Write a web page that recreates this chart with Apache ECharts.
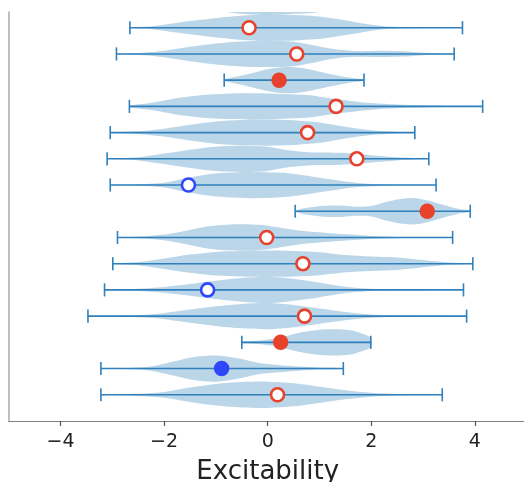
<!DOCTYPE html>
<html>
<head>
<meta charset="utf-8">
<script src="https://cdn.jsdelivr.net/npm/echarts@6/dist/echarts.min.js"></script>
<style>html,body{margin:0;padding:0;background:#fff}#chart{width:524px;height:482px}</style>
</head>
<body>
<div id="chart"></div>
<script>
// Rows listed top to bottom; row 0 is mostly clipped at the top of the axes
const rowMin = [-3.0, -2.66, -2.92, -0.84, -2.67, -3.04, -3.10, -3.04, 0.53, -2.90, -2.99, -3.15, -3.47, -0.50, -3.22, -3.22];
const rowMax = [3.5, 3.76, 3.60, 1.86, 4.15, 2.84, 3.11, 3.25, 3.91, 3.57, 3.96, 3.78, 3.84, 1.99, 1.46, 3.37];
const markerX = [null, -0.36, 0.56, 0.22, 1.32, 0.77, 1.72, -1.53, 3.08, -0.02, 0.68, -1.16, 0.71, 0.25, -0.89, 0.19];
const markerKind = [null, 'openRed', 'openRed', 'filledRed', 'openRed', 'openRed', 'openRed', 'openBlue', 'filledRed', 'openRed', 'openRed', 'openBlue', 'openRed', 'filledRed', 'filledBlue', 'openRed'];

// violin profiles: sample positions and relative half-widths (0..1)
const violinX = [
  [-3.0, -2.0, -1.3, -0.7, -0.2, 0.4, 0.9, 1.5, 2.2, 3.5],
  [-2.66, -2.27, -1.8, -1.3, -0.66, -0.27, 0.2, 0.63, 1.0, 1.27, 1.6, 1.91, 2.3, 2.8, 3.76],
  [-2.92, -2.4, -2.0, -1.5, -1.0, -0.5, 0.0, 0.5, 0.9, 1.3, 1.7, 2.2, 2.6, 3.0, 3.6],
  [-0.84, -0.5, -0.2, 0.1, 0.4, 0.7, 1.0, 1.3, 1.6, 1.86],
  [-2.67, -2.2, -1.8, -1.3, -0.8, -0.3, 0.3, 0.8, 1.2, 1.6, 2.0, 2.5, 3.0, 3.6, 4.15],
  [-3.04, -2.5, -2.0, -1.5, -1.0, -0.5, 0.0, 0.5, 1.0, 1.5, 2.0, 2.5, 2.84],
  [-3.10, -2.5, -2.0, -1.5, -1.0, -0.5, 0.0, 0.4, 0.8, 1.2, 1.6, 2.0, 2.5, 3.11],
  [-3.04, -2.5, -2.0, -1.6, -1.2, -0.8, -0.3, 0.2, 0.6, 1.0, 1.4, 1.8, 2.3, 3.25],
  [0.53, 0.8, 1.1, 1.4, 1.7, 2.0, 2.3, 2.6, 2.85, 3.1, 3.4, 3.7, 3.91],
  [-2.90, -2.4, -2.0, -1.6, -1.2, -0.8, -0.4, 0.0, 0.4, 0.8, 1.2, 1.6, 2.0, 2.6, 3.57],
  [-2.99, -2.5, -2.0, -1.5, -1.0, -0.5, 0.0, 0.5, 1.0, 1.5, 2.0, 2.5, 3.0, 3.5, 3.96],
  [-3.15, -2.5, -2.0, -1.5, -1.0, -0.5, 0.0, 0.4, 0.8, 1.2, 1.6, 2.0, 2.6, 3.78],
  [-3.47, -2.8, -2.2, -1.6, -1.0, -0.5, 0.0, 0.5, 1.0, 1.5, 2.0, 2.6, 3.84],
  [-0.50, -0.2, 0.1, 0.4, 0.7, 1.0, 1.3, 1.6, 1.8, 1.99],
  [-3.22, -2.6, -2.2, -1.8, -1.4, -1.0, -0.6, -0.2, 0.2, 0.6, 1.0, 1.46],
  [-3.22, -2.6, -2.0, -1.5, -1.0, -0.5, 0.0, 0.5, 1.0, 1.5, 2.0, 2.5, 3.37]
];
const violinW = [
  [0.02, 0.15, 0.50, 0.85, 1.00, 0.95, 0.85, 0.50, 0.15, 0.02],
  [0.02, 0.10, 0.35, 0.60, 0.88, 0.98, 1.00, 0.95, 0.85, 0.70, 0.50, 0.28, 0.10, 0.04, 0.01],
  [0.02, 0.10, 0.25, 0.55, 0.80, 0.95, 1.00, 0.93, 0.65, 0.35, 0.22, 0.24, 0.20, 0.09, 0.02],
  [0.06, 0.35, 0.65, 0.90, 1.00, 0.90, 0.65, 0.40, 0.18, 0.05],
  [0.06, 0.30, 0.60, 0.85, 0.97, 1.00, 0.95, 0.85, 0.62, 0.42, 0.25, 0.14, 0.08, 0.04, 0.02],
  [0.02, 0.10, 0.30, 0.60, 0.85, 0.97, 1.00, 0.95, 0.78, 0.45, 0.18, 0.06, 0.02],
  [0.02, 0.12, 0.40, 0.70, 0.93, 1.00, 0.92, 0.65, 0.50, 0.48, 0.42, 0.28, 0.12, 0.02],
  [0.02, 0.06, 0.18, 0.50, 0.78, 0.93, 1.00, 0.95, 0.80, 0.55, 0.32, 0.14, 0.05, 0.02],
  [0.05, 0.28, 0.42, 0.44, 0.35, 0.40, 0.72, 0.95, 1.00, 0.82, 0.48, 0.17, 0.05],
  [0.02, 0.08, 0.22, 0.50, 0.82, 0.97, 1.00, 0.90, 0.65, 0.45, 0.33, 0.22, 0.12, 0.04, 0.01],
  [0.02, 0.12, 0.40, 0.70, 0.90, 0.97, 1.00, 0.97, 0.88, 0.66, 0.55, 0.48, 0.28, 0.09, 0.02],
  [0.02, 0.08, 0.22, 0.45, 0.70, 0.90, 1.00, 0.88, 0.68, 0.42, 0.20, 0.08, 0.03, 0.01],
  [0.02, 0.05, 0.15, 0.45, 0.75, 0.93, 1.00, 0.85, 0.58, 0.32, 0.13, 0.05, 0.01],
  [0.06, 0.12, 0.25, 0.52, 0.80, 0.97, 1.00, 0.92, 0.70, 0.35],
  [0.02, 0.06, 0.20, 0.55, 0.90, 1.00, 0.80, 0.45, 0.28, 0.16, 0.08, 0.03],
  [0.02, 0.07, 0.22, 0.55, 0.82, 0.97, 1.00, 0.88, 0.62, 0.35, 0.15, 0.06, 0.02]
];
const tickValues = [-4, -2, 0, 2, 4];
const xAxisTitle = 'Excitability';

const nRows = rowMin.length;
const rowY = i => nRows - i;   // top row at 16, bottom at 1
const HALF = 0.5;
const FONT = 'DejaVu Sans';
const lineColor = '#2f80bd';
const kindStyle = {
  openRed:   { color: '#ffffff', borderColor: '#e8412c', borderWidth: 2.6, size: 13 },
  filledRed: { color: '#e8412c', borderColor: '#e8412c', borderWidth: 0, size: 15.5 },
  openBlue:  { color: '#ffffff', borderColor: '#2e47fb', borderWidth: 2.6, size: 13 },
  filledBlue:{ color: '#2e47fb', borderColor: '#2e47fb', borderWidth: 0, size: 15.5 }
};

const rowIdx = rowMin.map((_, i) => [i]);

const chart = echarts.init(document.getElementById('chart'), null, { renderer: 'canvas' });
chart.setOption({
  animation: false,
  backgroundColor: '#ffffff',
  grid: { left: 8.7, top: 12, width: 518, height: 409, containLabel: false, outerBoundsMode: 'none' },
  xAxis: {
    type: 'value', min: -5, max: 5,
    axisLine: { show: true, onZero: false, lineStyle: { color: '#808080', width: 1.2 } },
    axisTick: { show: true, length: 5, customValues: tickValues, lineStyle: { color: '#555', width: 1.2 } },
    axisLabel: { customValues: tickValues, fontFamily: FONT, fontSize: 19, color: '#222', margin: 12,
      formatter: v => String(v).replace('-', '\u2212') },
    splitLine: { show: false },
    name: xAxisTitle, nameLocation: 'middle', nameGap: 38,
    nameTextStyle: { fontFamily: FONT, fontSize: 26, color: '#222' }
  },
  yAxis: {
    type: 'value', min: 0, max: 15.6,
    axisLine: { show: true, onZero: false, lineStyle: { color: '#aaaaaa', width: 1.5 } },
    axisTick: { show: false }, axisLabel: { show: false }, splitLine: { show: false }
  },
  series: [
    {
      type: 'custom', clip: true, data: rowIdx, z: 1,
      renderItem: (params, api) => {
        const i = params.dataIndex;
        const y = rowY(i);
        const xs = violinX[i], ws = violinW[i];
        const pts = [];
        for (let k = 0; k < xs.length; k++) pts.push(api.coord([xs[k], y + ws[k] * HALF]));
        for (let k = xs.length - 1; k >= 0; k--) pts.push(api.coord([xs[k], y - ws[k] * HALF]));
        return { type: 'polygon', shape: { points: pts, smooth: 0.3 },
          style: { fill: 'rgba(31,119,180,0.3)', stroke: null } };
      }
    },
    {
      type: 'custom', clip: true, data: rowIdx, z: 2,
      renderItem: (params, api) => {
        const i = params.dataIndex;
        const y = rowY(i);
        const a = api.coord([rowMin[i], y]);
        const b = api.coord([rowMax[i], y]);
        const cap = Math.abs(api.coord([0, y + 0.25])[1] - api.coord([0, y])[1]);
        const st = { stroke: lineColor, lineWidth: 1.6 };
        return { type: 'group', children: [
          { type: 'line', shape: { x1: a[0], y1: a[1], x2: b[0], y2: b[1] }, style: st },
          { type: 'line', shape: { x1: a[0], y1: a[1] - cap, x2: a[0], y2: a[1] + cap }, style: st },
          { type: 'line', shape: { x1: b[0], y1: b[1] - cap, x2: b[0], y2: b[1] + cap }, style: st }
        ] };
      }
    },
    {
      type: 'scatter', z: 3, clip: true, symbol: 'circle',
      data: markerX.map((x, i) => {
        if (x === null) return null;
        const s = kindStyle[markerKind[i]];
        return { value: [x, rowY(i)], symbolSize: s.size,
          itemStyle: { color: s.color, borderColor: s.borderColor, borderWidth: s.borderWidth, opacity: 1 } };
      }).filter(d => d !== null)
    }
  ]
});
</script>
</body>
</html>
